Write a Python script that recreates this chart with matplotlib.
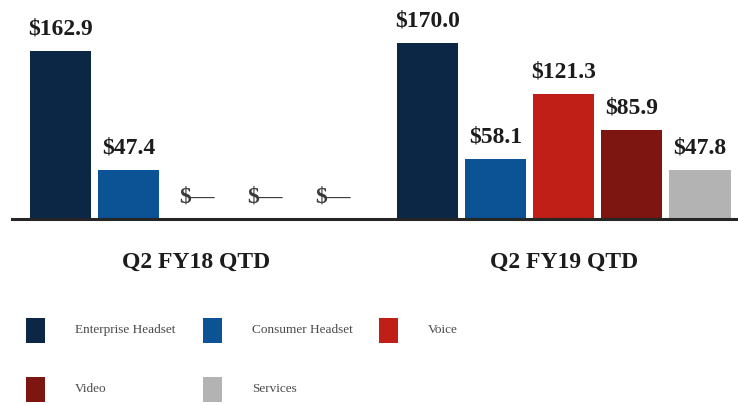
import numpy as np
import matplotlib
matplotlib.use("Agg")
import matplotlib.pyplot as plt
from matplotlib.patches import Rectangle

# datos (millones de USD)
periodos = ["Q2 FY18 QTD", "Q2 FY19 QTD"]
categorias = ["Enterprise Headset", "Consumer Headset", "Voice", "Video", "Services"]
valores_fy18 = [162.9, 47.4, 0.0, 0.0, 0.0]
valores_fy19 = [170.0, 58.1, 121.3, 85.9, 47.8]
etiquetas_fy18 = ["$162.9", "$47.4", "$\u2014", "$\u2014", "$\u2014"]
etiquetas_fy19 = ["$170.0", "$58.1", "$121.3", "$85.9", "$47.8"]
colores = ["#0c2645", "#0b5395", "#bf1f17", "#7d1610", "#b3b3b3"]

plt.rcParams['font.family'] = ['Liberation Serif', 'DejaVu Serif']

fig = plt.figure(figsize=(7.38, 4.05), dpi=100)
ax = fig.add_axes([0.016, 0.459, 0.984, 0.541])

paso = 1.0
ancho = 0.9
inicio_grupos = [0.0, 5.4]
for g, (vals, etqs) in enumerate([(valores_fy18, etiquetas_fy18), (valores_fy19, etiquetas_fy19)]):
    xs = inicio_grupos[g] + np.arange(len(vals)) * paso
    ax.bar(xs, vals, width=ancho, color=colores, edgecolor='none')
    for x, v, t in zip(xs, vals, etqs):
        ax.annotate(t, (x, v), xytext=(0, 12), textcoords='offset points',
                    ha='center', va='baseline', fontsize=17, fontweight='bold',
                    color='#1c1c1c' if v > 0 else '#3a3a3a')
    centro = inicio_grupos[g] + (len(vals) - 1) * paso / 2
    ax.text(centro, -42, periodos[g], ha='center', va='center', fontsize=17,
            fontweight='bold', color='#1c1c1c')

ax.set_xlim(-0.715, 9.96)
ax.set_ylim(0, 212)
ax.axhline(0, color='#262626', lw=2.2, clip_on=False)
ax.axis('off')

# leyenda manual, 3 columnas
cols_x = [26, 203, 379]
filas_y = [330, 389]
for i, (cat, col) in enumerate(zip(categorias, colores)):
    fila, columna = divmod(i, 3)
    px = cols_x[columna]
    py = filas_y[fila]
    fig.patches.append(Rectangle((px / 738, 1 - (py + 12.5) / 405), 19 / 738, 25 / 405,
                                 transform=fig.transFigure, facecolor=col, edgecolor='none'))
    fig.text((px + 49) / 738, 1 - py / 405, cat, ha='left', va='center',
             fontsize=9.5, color='#4a4a4a')

fig.savefig("out.png", dpi=100)
